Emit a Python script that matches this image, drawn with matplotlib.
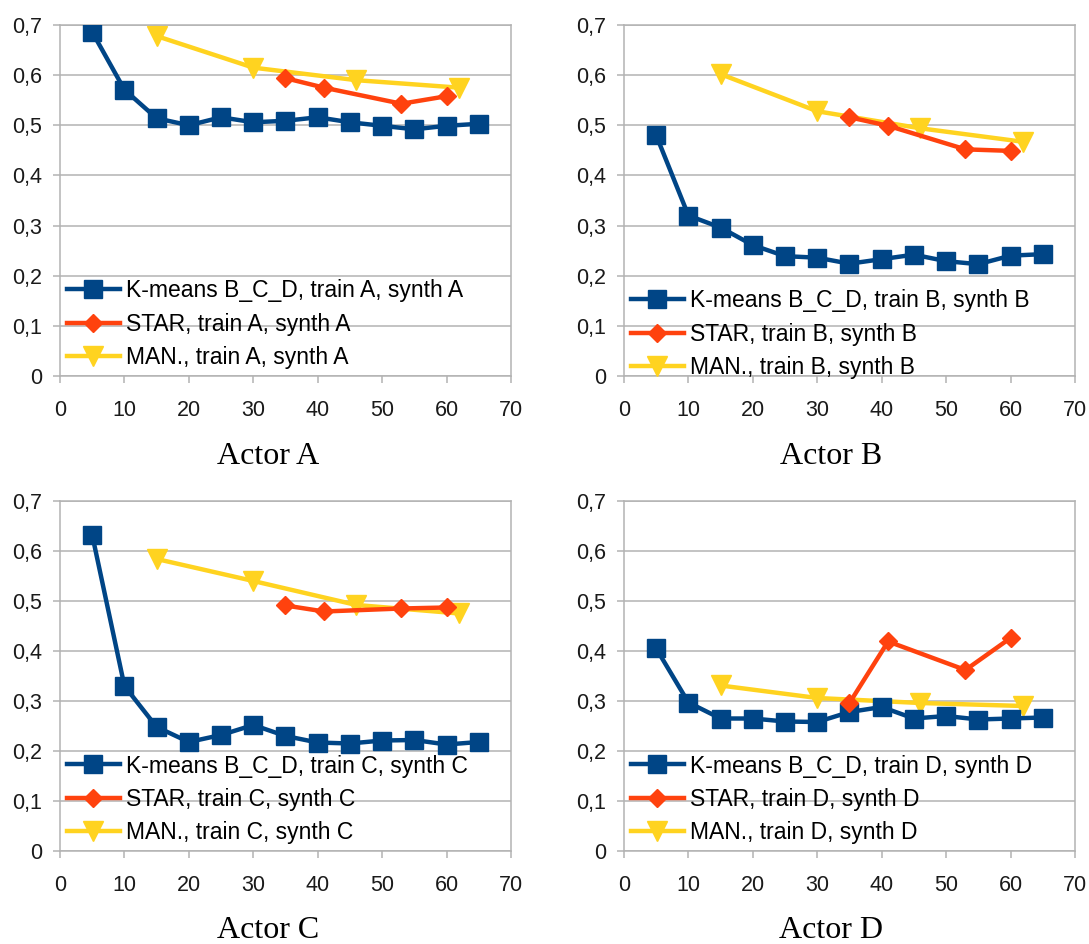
import matplotlib.pyplot as plt
from matplotlib.ticker import FuncFormatter

plt.rcParams["font.family"] = ["Liberation Sans", "DejaVu Sans"]

BLUE = "#004586"
ORANGE = "#ff420e"
YELLOW = "#ffd320"
GRID = "#b3b3b3"
TXT = "#1a1a1a"

# x positions
kmeans_x = [5, 10, 15, 20, 25, 30, 35, 40, 45, 50, 55, 60, 65]
star_x = [35, 41, 53, 60]
man_x = [15, 30, 46, 62]

# Actor A
kmeans_a = [0.686, 0.571, 0.514, 0.500, 0.516, 0.506, 0.509, 0.516, 0.506, 0.499, 0.492, 0.499, 0.503]
star_a = [0.594, 0.575, 0.543, 0.558]
man_a = [0.678, 0.615, 0.590, 0.575]

# Actor B
kmeans_b = [0.480, 0.320, 0.296, 0.261, 0.239, 0.236, 0.224, 0.233, 0.242, 0.229, 0.223, 0.240, 0.243]
star_b = [0.516, 0.499, 0.452, 0.449]
man_b = [0.602, 0.528, 0.494, 0.467]

# Actor C
kmeans_c = [0.632, 0.330, 0.248, 0.218, 0.232, 0.252, 0.230, 0.217, 0.215, 0.221, 0.222, 0.213, 0.218]
star_c = [0.491, 0.479, 0.485, 0.487]
man_c = [0.584, 0.540, 0.492, 0.475]

# Actor D
kmeans_d = [0.405, 0.297, 0.265, 0.265, 0.259, 0.258, 0.278, 0.288, 0.265, 0.270, 0.263, 0.265, 0.267]
star_d = [0.296, 0.419, 0.362, 0.426]
man_d = [0.331, 0.306, 0.296, 0.290]

actors = ["A", "B", "C", "D"]
kmeans_all = [kmeans_a, kmeans_b, kmeans_c, kmeans_d]
star_all = [star_a, star_b, star_c, star_d]
man_all = [man_a, man_b, man_c, man_d]

fig = plt.figure(figsize=(10.89, 9.44), dpi=100)

# axes rectangles in figure fractions
rects = [
    [0.0551, 0.6017, 0.4141, 0.3718],
    [0.5730, 0.6017, 0.4141, 0.3718],
    [0.0551, 0.0985, 0.4141, 0.3708],
    [0.5730, 0.0985, 0.4141, 0.3708],
]
title_pos = [(0.246, 0.516), (0.763, 0.516), (0.246, 0.014), (0.763, 0.014)]
legend_y = [0.0, -0.028, 0.0, 0.0]

for i, actor in enumerate(actors):
    ax = fig.add_axes(rects[i])
    ax.plot(kmeans_x, kmeans_all[i], color=BLUE, lw=3.2, marker="s", ms=12.5,
            label=f"K-means B_C_D, train {actor}, synth {actor}", zorder=3)
    ax.plot(star_x, star_all[i], color=ORANGE, lw=3.2, marker="D", ms=9.5,
            label=f"STAR, train {actor}, synth {actor}", zorder=3)
    ax.plot(man_x, man_all[i], color=YELLOW, lw=3.2, marker="v", ms=14,
            label=f"MAN., train {actor}, synth {actor}", zorder=2)

    ax.set_xlim(0, 70)
    ax.set_ylim(0, 0.7)
    ax.set_xticks(range(0, 71, 10))
    ax.set_yticks([i / 10 for i in range(8)])
    ax.yaxis.set_major_formatter(
        FuncFormatter(lambda v, p: "0" if abs(v) < 1e-9 else f"{v:.1f}".replace(".", ","))
    )
    ax.grid(axis="y", color=GRID, lw=1.1)
    ax.set_axisbelow(True)
    for s in ax.spines.values():
        s.set_color(GRID)
        s.set_linewidth(1.1)
    ax.tick_params(axis="both", colors=GRID, labelcolor=TXT, labelsize=15.5,
                   length=5, width=1.1)
    ax.tick_params(axis="x", pad=12)
    ax.tick_params(axis="y", pad=8)

    ax.legend(loc="lower left", bbox_to_anchor=(0.0, legend_y[i]), frameon=False,
              fontsize=16.5, handlelength=2.3, handletextpad=0.3,
              labelspacing=0.45, borderaxespad=0.1, borderpad=0.2)

    fig.text(title_pos[i][0], title_pos[i][1], f"Actor {actor}", ha="center",
             va="center", fontsize=23, family=["Liberation Serif", "DejaVu Serif"])

fig.savefig("out.png", dpi=100)
